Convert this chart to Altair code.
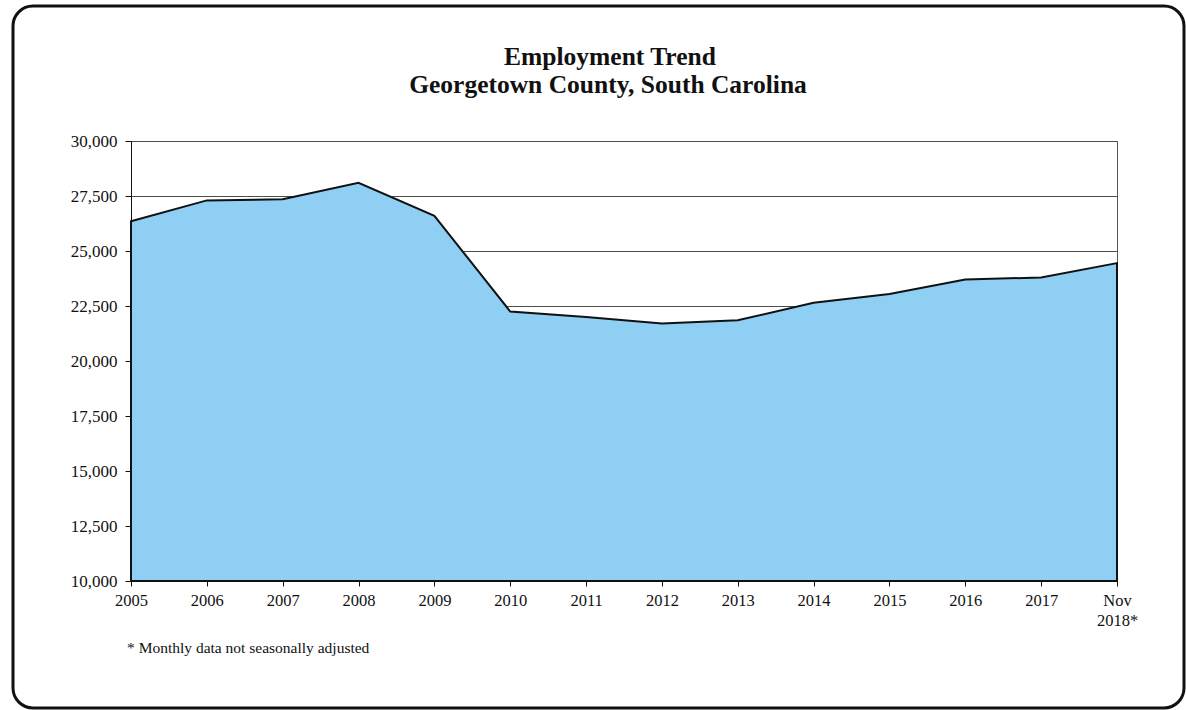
import altair as alt
import pandas as pd

years = ["2005", "2006", "2007", "2008", "2009", "2010", "2011", "2012",
         "2013", "2014", "2015", "2016", "2017", "Nov 2018*"]
employment = [26350, 27300, 27350, 28100, 26600, 22250, 22000, 21700,
              21850, 22650, 23050, 23700, 23800, 24450]
y_ticks = [10000, 12500, 15000, 17500, 20000, 22500, 25000, 27500, 30000]
title_lines = ["Employment Trend", "Georgetown County, South Carolina"]
footnote = "* Monthly data not seasonally adjusted"

FONT = "Liberation Serif"

df = pd.DataFrame({"year": years, "employment": employment})
one = pd.DataFrame({"k": [0]})

frame = alt.Chart(one).mark_rect(
    fill=None, stroke="#111111", strokeWidth=3, cornerRadius=20
).encode(
    x=alt.value(-118), x2=alt.value(1053),
    y=alt.value(-135), y2=alt.value(567)
)

area = alt.Chart(df).mark_area(
    color="#90CFF4", fillOpacity=1, stroke="#111111", strokeWidth=2,
    strokeJoin="miter"
).encode(
    x=alt.X("year:O", sort=years,
            scale=alt.Scale(type="point", padding=0),
            axis=alt.Axis(title=None, labelAngle=0, labelFont=FONT,
                          labelFontSize=16.5, labelColor="#111111",
                          labelExpr="split(datum.label, ' ')",
                          labelLineHeight=20, labelOverlap=False,
                          tickSize=5, tickColor="#111111",
                          domainColor="#111111", labelPadding=6,
                          grid=False)),
    y=alt.Y("employment:Q",
            scale=alt.Scale(domain=[10000, 30000], nice=False, zero=False),
            axis=alt.Axis(title=None, values=y_ticks,
                          labelExpr="format(datum.value, ',')",
                          labelFont=FONT, labelFontSize=17,
                          labelColor="#111111", tickSize=6,
                          tickColor="#111111", domainColor="#111111",
                          labelPadding=8, grid=True, gridColor="#4d4d4d",
                          gridWidth=1)),
    y2=alt.Y2(datum=10000)
)

title1 = alt.Chart(one).mark_text(
    align="center", baseline="alphabetic", font=FONT, fontSize=25.5,
    fontWeight="bold", color="#111111"
).encode(x=alt.value(479), y=alt.value(-76), text=alt.value(title_lines[0]))

title2 = alt.Chart(one).mark_text(
    align="center", baseline="alphabetic", font=FONT, fontSize=25.5,
    fontWeight="bold", color="#111111"
).encode(x=alt.value(477), y=alt.value(-48.5), text=alt.value(title_lines[1]))

note = alt.Chart(one).mark_text(
    align="left", baseline="alphabetic", font=FONT, fontSize=15.5,
    color="#111111"
).encode(
    x=alt.value(-4), y=alt.value(512), text=alt.value(footnote)
)

chart = alt.layer(frame, area, title1, title2, note).properties(
    width=986, height=440,
    autosize=alt.AutoSizeParams(type="none"),
    padding={"left": 131, "top": 141, "right": 69, "bottom": 129},
    background="white"
).configure_view(stroke="#555555", strokeWidth=1)

chart.save("out.html", embed_options={"renderer": "svg", "actions": False})
